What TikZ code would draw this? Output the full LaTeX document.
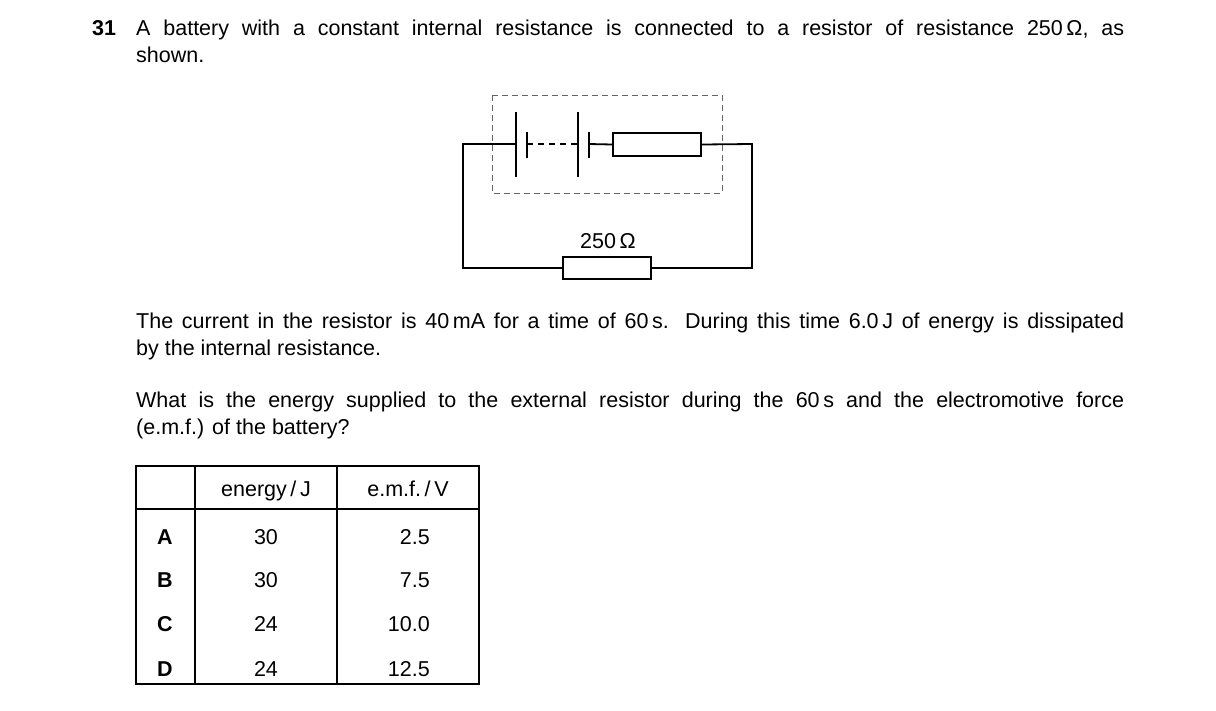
\documentclass[tikz,border=0pt]{standalone}
\usepackage{fontspec}
\setmainfont{Liberation Sans}
\begin{document}
\begin{tikzpicture}[x=1pt,y=-1pt,
    every node/.style = {inner sep=0pt, font=\fontsize{21.5}{27}\selectfont},
    wire/.style = {line width=1.8pt},
    res/.style = {draw, line width=1.8pt, fill=white},
    para/.style = {anchor=base west, text width=988pt, align=justify}
    ]
    \useasboundingbox (0,0) rectangle (1216,710);
    % question text
    \node[anchor=base west, font=\bfseries\fontsize{21.5}{27}\selectfont] (num) at (92,35) {31};
    \node[para] (q1) at (136,35) {A battery with a constant internal resistance is connected to a resistor of resistance 250\,Ω, as\linebreak shown.};
    \node[para] (q2) at (136,328) {The current in the resistor is 40\,mA for a time of 60\,s. During this time 6.0\,J of energy is dissipated\linebreak by the internal resistance.};
    \node[para] (q3) at (136,407) {What is the energy supplied to the external resistor during the 60\,s and the electromotive force\linebreak (e.m.f.) of the battery?};
    % circuit
    \coordinate (tl) at (463,144);
    \coordinate (tr) at (752,144);
    \coordinate (bl) at (463,268);
    \coordinate (br) at (752,268);
    \coordinate (c1) at (516,144);
    \coordinate (c1s) at (527,144);
    \coordinate (c2) at (578,144);
    \coordinate (c2s) at (589,144);
    \node[res, minimum width=88pt, minimum height=23pt] (rint) at (657,144.5) {};
    \node[res, minimum width=88pt, minimum height=22pt] (rext) at (607,268) {};
    \node (lab) at (608,241) {250\,Ω};
    \draw[wire] (c1) -- (tl) -- (bl) -- (rext.west);
    \draw[wire] (rext.east) -- (br) -- (tr) -- (rint.east);
    \draw[wire] (c2s) -- (rint.west);
    \draw[wire] (516,112) -- (516,177);
    \draw[wire] (527,132) -- (527,158);
    \draw[wire] (578,112) -- (578,177);
    \draw[wire] (589,132) -- (589,158);
    \draw[wire, dash pattern=on 6pt off 5pt] (c1s) -- (c2);
    \draw[gray!80!black, line width=1pt, dash pattern=on 6pt off 4pt] (492,95) rectangle (722,193);
    % table
    \draw[line width=1.2pt] (136,466) rectangle (479,684);
    \draw[line width=1.2pt] (195,466) -- (195,684);
    \draw[line width=1.2pt] (337,466) -- (337,684);
    \draw[line width=1.2pt] (136,509) -- (479,509);
    \node[anchor=base] (h1) at (266,496) {energy\,/\,J};
    \node[anchor=base] (h2) at (408,496) {e.m.f.\,/\,V};
    \foreach \l/\e/\v/\y in {A/30/2.5/544, B/30/7.5/587, C/24/10.0/631, D/24/12.5/676}{
        \node[anchor=base, font=\bfseries\fontsize{21.5}{27}\selectfont] (l\l) at (165,\y) {\l};
        \node[anchor=base] (e\l) at (266,\y) {\e};
        \node[anchor=base east] (v\l) at (430,\y) {\v};
    }
\end{tikzpicture}
\end{document}
